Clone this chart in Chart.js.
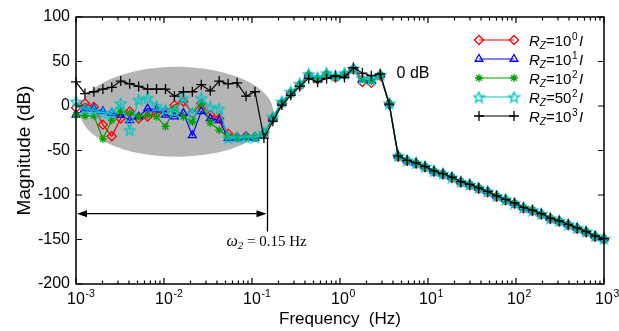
<!DOCTYPE html>
<html>
<head>
<meta charset="utf-8">
<script src="https://cdn.jsdelivr.net/npm/chart.js@4/dist/chart.umd.min.js"></script>
<style>
  html, body { margin: 0; padding: 0; background: #fff; }
  #wrap { width: 619px; height: 331px; }
</style>
</head>
<body>
<div id="wrap"><canvas id="bode" width="619" height="331"></canvas></div>
<script>
// Measured frequencies (Hz), log-spaced from 1 mHz to 1 kHz
const freqHz = [
  0.001, 0.001264, 0.001597, 0.002019, 0.002551, 0.003224, 0.004075, 0.005149, 0.006508, 0.008224,
  0.01040, 0.01314, 0.01661, 0.02099, 0.02653, 0.03353, 0.04238, 0.05356, 0.06769, 0.08555,
  0.1081, 0.1367, 0.1727, 0.2183, 0.2759, 0.3487, 0.4407, 0.5570, 0.7039, 0.8897,
  1.124, 1.421, 1.796, 2.269, 2.868, 3.625, 4.582, 5.791, 7.319, 9.250,
  11.69, 14.78, 18.68, 23.60, 29.83, 37.70, 47.65, 60.23, 76.12, 96.21,
  121.6, 153.7, 194.2, 245.5, 310.2, 392.1, 495.5, 626.3, 791.5, 1000
];

// Magnitude (dB) for each regularisation weight R_Z
const magRz10e0 = [
  -2, 3, -1, -21, -34, -14, -6, -14, -12, -8,
  -6, 1, 5, -8, 3, -10, -14, -31, -35, -34,
  -35, -31, -14, 3, 14, 23, 34, 30, 35, 32,
  35, 41, 27, 26, 34, 2, -57, -62, -65, -69,
  -74, -77, -81, -86, -89, -93, -97, -102, -106, -110,
  -115, -118, -122, -127, -130, -134, -138, -142, -147, -150
];
const magRz10e1 = [
  -10, -3, -3, -6, -8, -10, -16, -12, -3, -4,
  -10, -12, -8, -33, -6, -14, -16, -36, -36, -35,
  -36, -31, -13, 4, 15, 24, 35, 31, 36, 33,
  36, 42, 30, 28, 35, 3, -56, -61, -64, -68,
  -73, -76, -80, -85, -88, -92, -96, -101, -105, -109,
  -114, -117, -121, -126, -129, -133, -137, -141, -146, -149
];
const magRz10e2 = [
  -10, -11, -11, -37, -16, -6, -8, -12, -10, -12,
  -23, -3, -12, -18, 3, -19, -27, -34, -36, -35,
  -35, -31, -14, 3, 15, 24, 35, 31, 36, 33,
  36, 42, 30, 28, 35, 3, -56, -61, -64, -68,
  -73, -76, -80, -85, -88, -92, -96, -101, -105, -109,
  -114, -117, -121, -126, -129, -133, -137, -141, -146, -149
];
const magRz50e2 = [
  5, -3, -5, -8, -8, 3, -27, 7, 9, 0,
  -4, -6, 9, -8, 9, -1, -3, -36, -35, -35,
  -35, -30, -12, 5, 16, 25, 36, 32, 37, 34,
  37, 42, 31, 30, 35, 3, -56, -61, -64, -68,
  -73, -76, -80, -85, -88, -92, -96, -101, -105, -109,
  -114, -117, -121, -126, -129, -133, -137, -141, -146, -149
];
const magRz10e3 = [
  27, 14, 16, 19, 21, 28, 25, 22, 19, 19,
  19, 11, 16, 16, 24, 17, 28, 25, 26, 11,
  16, -36, -17, 1, 12, 22, 31, 27, 31, 34,
  32, 43, 37, 34, 36, 2, -56, -61, -64, -68,
  -73, -76, -80, -85, -88, -92, -96, -101, -105, -109,
  -114, -117, -121, -126, -129, -133, -137, -141, -146, -149
];

// Legend text parts: base and exponent of R_Z
const legendBases = ['10', '10', '10', '50', '10'];
const legendExps = ['0', '1', '2', '2', '3'];

// Axis ticks
const yTickValues = [-200, -150, -100, -50, 0, 50, 100];
const xDecades = [1e-3, 1e-2, 1e-1, 1, 10, 100, 1000];
const xDecadeExps = ['-3', '-2', '-1', '0', '1', '2', '3'];

// Annotations
const cornerFreq = 0.15;          // ω2 in Hz
const cornerTopDb = -36;
const cornerBottomDb = -141;
const arrowDb = -121;
const cornerLabelDb = -152;
const cornerLabelText = ' = 0.15 Hz';
const plateauText = '0 dB';
const plateauFreq = 4.4;
const plateauDb = 36;
// Shaded low-frequency noise region (bounding box of the ellipse)
const noiseRegion = { fMin: 0.00111, fMax: 0.174, dbMin: -57, dbMax: 44 };

const SANS = '"Liberation Sans", Arial, Helvetica, sans-serif';
const SERIF = '"Liberation Serif", "Times New Roman", serif';
Chart.defaults.font.family = SANS;
Chart.defaults.color = '#000';

// Hollow five-pointed star marker
const pentagram = (() => {
  const c = document.createElement('canvas');
  c.width = 13; c.height = 13;
  const g = c.getContext('2d');
  g.strokeStyle = '#00c4c4';
  g.lineWidth = 1.3;
  g.beginPath();
  for (let i = 0; i < 10; i++) {
    const r = i % 2 ? 2.4 : 5.6;
    const a = -Math.PI / 2 + i * Math.PI / 5;
    const px = 6.5 + r * Math.cos(a), py = 7 + r * Math.sin(a);
    if (i) g.lineTo(px, py); else g.moveTo(px, py);
  }
  g.closePath();
  g.stroke();
  return c;
})();

const series = [
  { values: magRz10e0, color: '#ff0000', point: 'rectRot', radius: 4.5, order: 4 },
  { values: magRz10e1, color: '#0000ff', point: 'triangle', radius: 4.5, order: 3 },
  { values: magRz10e2, color: '#00a000', point: 'star', radius: 4, order: 2 },
  { values: magRz50e2, color: '#00c4c4', point: pentagram, radius: 5, order: 1 },
  { values: magRz10e3, color: '#000000', point: 'cross', radius: 5, order: 0 }
];

function drawMarker(ctx, s, x, y) {
  ctx.save();
  ctx.strokeStyle = s.color;
  ctx.fillStyle = 'rgba(0,0,0,0)';
  ctx.lineWidth = 1.3;
  if (Chart.helpers && Chart.helpers.drawPoint) {
    Chart.helpers.drawPoint(ctx, { pointStyle: s.point, radius: s.radius, borderWidth: 1.3, rotation: 0 }, x, y);
  }
  ctx.restore();
}

const decor = {
  id: 'decor',
  beforeDatasetsDraw(chart) {
    const { ctx, scales: { x, y } } = chart;
    const x0 = x.getPixelForValue(noiseRegion.fMin), x1 = x.getPixelForValue(noiseRegion.fMax);
    const y0 = y.getPixelForValue(noiseRegion.dbMax), y1 = y.getPixelForValue(noiseRegion.dbMin);
    ctx.save();
    ctx.fillStyle = '#b5b5b5';
    ctx.beginPath();
    ctx.ellipse((x0 + x1) / 2, (y0 + y1) / 2, (x1 - x0) / 2, (y1 - y0) / 2, 0, 0, Math.PI * 2);
    ctx.fill();
    ctx.restore();
  },
  afterDraw(chart) {
    const { ctx, chartArea: a, scales: { x, y } } = chart;
    ctx.save();
    // frame
    ctx.strokeStyle = '#000';
    ctx.lineWidth = 1.5;
    ctx.strokeRect(a.left, a.top, a.right - a.left, a.bottom - a.top);
    // inward ticks
    ctx.lineWidth = 1.2;
    ctx.beginPath();
    yTickValues.forEach(v => {
      const py = y.getPixelForValue(v);
      ctx.moveTo(a.left, py); ctx.lineTo(a.left + 6, py);
      ctx.moveTo(a.right, py); ctx.lineTo(a.right - 6, py);
    });
    xDecades.forEach((d, i) => {
      const px = x.getPixelForValue(d);
      ctx.moveTo(px, a.bottom); ctx.lineTo(px, a.bottom - 6);
      ctx.moveTo(px, a.top); ctx.lineTo(px, a.top + 6);
      if (i < xDecades.length - 1) {
        for (let m = 2; m <= 9; m++) {
          const pm = x.getPixelForValue(m * d);
          ctx.moveTo(pm, a.bottom); ctx.lineTo(pm, a.bottom - 3.5);
          ctx.moveTo(pm, a.top); ctx.lineTo(pm, a.top + 3.5);
        }
      }
    });
    ctx.stroke();

    // x tick labels: 10 with raised exponent
    ctx.fillStyle = '#000';
    ctx.textBaseline = 'alphabetic';
    xDecades.forEach((d, i) => {
      const px = x.getPixelForValue(d);
      ctx.font = '16px ' + SANS;
      const w = ctx.measureText('10').width;
      ctx.textAlign = 'left';
      ctx.fillText('10', px - w / 2, a.bottom + 20);
      ctx.font = '10.5px ' + SANS;
      ctx.fillText(xDecadeExps[i], px + w / 2 + 0.5, a.bottom + 13);
    });

    // corner frequency marker and arrow
    const xc = x.getPixelForValue(cornerFreq);
    const xl = x.getPixelForValue(xDecades[0]);
    const ya = y.getPixelForValue(arrowDb);
    ctx.strokeStyle = '#000';
    ctx.lineWidth = 1.3;
    ctx.beginPath();
    ctx.moveTo(xc, y.getPixelForValue(cornerTopDb));
    ctx.lineTo(xc, y.getPixelForValue(cornerBottomDb));
    ctx.moveTo(xl + 8, ya); ctx.lineTo(xc - 8, ya);
    ctx.stroke();
    ctx.beginPath();
    ctx.moveTo(xl + 1, ya); ctx.lineTo(xl + 11, ya - 3.5); ctx.lineTo(xl + 11, ya + 3.5); ctx.closePath();
    ctx.moveTo(xc - 1, ya); ctx.lineTo(xc - 11, ya - 3.5); ctx.lineTo(xc - 11, ya + 3.5); ctx.closePath();
    ctx.fill();

    // ω2 = 0.15 Hz
    let tx = xc - 41;
    const tb = y.getPixelForValue(cornerLabelDb) + 5;
    ctx.textAlign = 'left';
    ctx.font = 'italic 16px ' + SERIF;
    ctx.fillText('ω', tx, tb); tx += ctx.measureText('ω').width;
    ctx.font = 'italic 11px ' + SERIF;
    ctx.fillText('2', tx, tb + 3); tx += ctx.measureText('2').width;
    ctx.font = '15px ' + SERIF;
    ctx.fillText(cornerLabelText, tx, tb);

    // 0 dB
    ctx.font = '16px ' + SANS;
    ctx.textBaseline = 'middle';
    ctx.fillText(plateauText, x.getPixelForValue(plateauFreq), y.getPixelForValue(plateauDb));

    // legend
    ctx.textBaseline = 'alphabetic';
    series.forEach((s, i) => {
      const ly = 40 + i * 19;
      ctx.strokeStyle = s.color;
      ctx.lineWidth = 1.2;
      ctx.beginPath(); ctx.moveTo(479, ly); ctx.lineTo(514, ly); ctx.stroke();
      drawMarker(ctx, s, 479, ly);
      drawMarker(ctx, s, 514, ly);
      ctx.fillStyle = '#000';
      let lx = 529;
      const base = ly + 5.5;
      ctx.font = 'italic 15px ' + SANS;
      ctx.fillText('R', lx, base); lx += ctx.measureText('R').width;
      ctx.font = 'italic 10px ' + SANS;
      ctx.fillText('Z', lx, base + 3); lx += ctx.measureText('Z').width;
      ctx.font = '15px ' + SANS;
      const eq = '=' + legendBases[i];
      ctx.fillText(eq, lx, base); lx += ctx.measureText(eq).width;
      ctx.font = '10px ' + SANS;
      ctx.fillText(legendExps[i], lx + 0.5, base - 6); lx += ctx.measureText(legendExps[i]).width + 2;
      ctx.font = 'italic 15px ' + SANS;
      ctx.fillText('I', lx, base);
    });
    ctx.restore();
  }
};

new Chart(document.getElementById('bode'), {
  type: 'line',
  data: {
    datasets: series.map((s, i) => ({
      label: 'R_Z=' + legendBases[i] + '^' + legendExps[i] + ' I',
      data: freqHz.map((f, k) => ({ x: f, y: s.values[k] })),
      borderColor: s.color,
      borderWidth: 1.2,
      pointStyle: s.point,
      pointRadius: s.radius,
      pointBorderColor: s.color,
      pointBackgroundColor: 'rgba(0,0,0,0)',
      pointBorderWidth: 1.3,
      tension: 0,
      fill: false,
      order: s.order,
      clip: false
    }))
  },
  options: {
    responsive: false,
    animation: false,
    devicePixelRatio: 1,
    layout: { padding: { top: 17, right: 15, bottom: 0, left: 0 } },
    plugins: { legend: { display: false }, tooltip: { enabled: false } },
    scales: {
      x: {
        type: 'logarithmic',
        min: 1e-3,
        max: 1e3,
        ticks: { display: false },
        grid: { display: false, drawTicks: false },
        border: { display: false },
        title: { display: true, text: 'Frequency  (Hz)', color: '#000', font: { size: 17 }, padding: { top: 0, bottom: 1 } },
        afterFit(s) { s.height = 47; }
      },
      y: {
        type: 'linear',
        min: -200,
        max: 100,
        ticks: { stepSize: 50, color: '#000', font: { size: 16 }, padding: 6 },
        grid: { display: false, drawTicks: false },
        border: { display: false },
        title: { display: true, text: 'Magnitude (dB)', color: '#000', font: { size: 19 }, padding: { top: 13, bottom: 0 } },
        afterFit(s) { s.width = 76; }
      }
    }
  },
  plugins: [decor]
});
</script>
</body>
</html>
